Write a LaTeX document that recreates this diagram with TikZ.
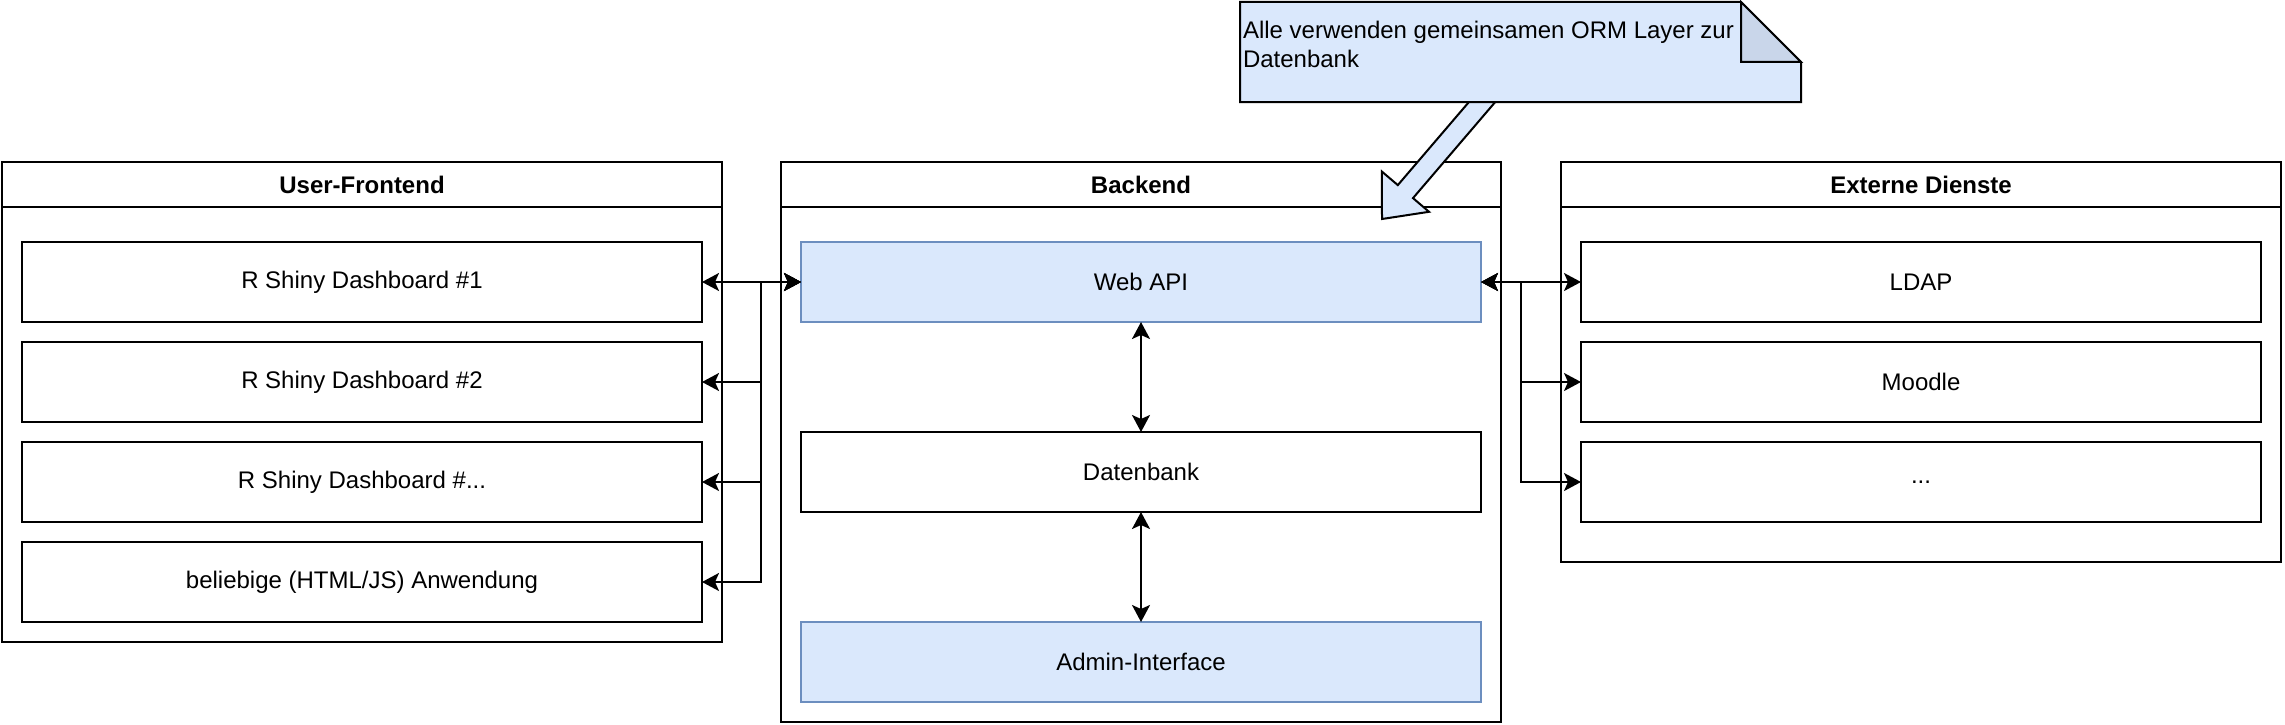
\documentclass[tikz,border=0pt]{standalone}
\usepackage{fontspec}
\setmainfont{Liberation Sans}
\usetikzlibrary{arrows.meta,calc}
\definecolor{bfill}{HTML}{DAE8FC}
\definecolor{bline}{HTML}{6C8EBF}
\definecolor{fold}{HTML}{C9D6EA}
\begin{document}
\begin{tikzpicture}[x=1pt,y=-1pt,
  every node/.style={font=\fontsize{24}{29}\selectfont, inner sep=0pt, outer sep=0pt},
  cont/.style={draw, line width=2pt, fill=white},
  box/.style={draw, line width=2pt, fill=white, minimum width=680pt, minimum height=80pt},
  bbox/.style={box, draw=bline, fill=bfill},
  ttl/.style={font=\fontsize{24}{29}\selectfont\bfseries},
  arr/.style={line width=2pt, {Stealth[length=17pt,width=18pt,inset=4pt]}-{Stealth[length=17pt,width=18pt,inset=4pt]}}]
\useasboundingbox (0,0) rectangle (2285,725);
% containers
\node[cont, minimum width=720pt, minimum height=480pt] (uf) at (362,402) {};
\draw[line width=2pt] ($(uf.north west)+(0,45)$) -- ($(uf.north east)+(0,45)$);
\node[ttl] (uft) at (362,184.5) {User-Frontend};
\node[cont, minimum width=720pt, minimum height=560pt] (be) at (1141,442) {};
\draw[line width=2pt] ($(be.north west)+(0,45)$) -- ($(be.north east)+(0,45)$);
\node[ttl] (bet) at (1141,184.5) {Backend};
\node[cont, minimum width=720pt, minimum height=400pt] (ex) at (1921,362) {};
\draw[line width=2pt] ($(ex.north west)+(0,45)$) -- ($(ex.north east)+(0,45)$);
\node[ttl] (ext) at (1921,184.5) {Externe Dienste};
% user boxes
\node[box] (u1) at (362,282) {R Shiny Dashboard \#1};
\node[box] (u2) at (362,382) {R Shiny Dashboard \#2};
\node[box] (u3) at (362,482) {R Shiny Dashboard \#...};
\node[box] (u4) at (362,582) {beliebige (HTML/JS) Anwendung};
% backend
\node[bbox] (w) at (1141,282) {Web API};
\node[box] (db) at (1141,472) {Datenbank};
\node[bbox] (ad) at (1141,662) {Admin-Interface};
% external
\node[box] (e1) at (1921,282) {LDAP};
\node[box] (e2) at (1921,382) {Moodle};
\node[box] (e3) at (1921,482) {...};
% connectors
\coordinate (jl) at (761,282);
\coordinate (jr) at (1521,282);
\draw[arr] (u1.east) -- (w.west);
\draw[arr] (w.west) -- (jl) |- (u2.east);
\draw[arr] (w.west) -- (jl) |- (u3.east);
\draw[arr] (w.west) -- (jl) |- (u4.east);
\draw[arr] (w.east) -- (e1.west);
\draw[arr] (w.east) -- (jr) |- (e2.west);
\draw[arr] (w.east) -- (jr) |- (e3.west);
\draw[arr] (w.south) -- (db.north);
\draw[arr] (db.south) -- (ad.north);
% block arrow
\draw[line width=2pt, fill=bfill, line join=miter]
  (1500.8,95.5) -- (1413.0,198.1) -- (1429.0,211.8) -- (1382,219) -- (1381.8,171.5)
  -- (1397.8,185.1) -- (1485.6,82.5) -- cycle;
% note
\draw[line width=2pt, fill=bfill] (1240,2) -- (1741,2) -- (1801,62) -- (1801,102) -- (1240,102) -- cycle;
\draw[line width=2pt, fill=fold, line join=miter] (1741,2) -- (1741,62) -- (1801,62) -- cycle;
\node[anchor=north west, align=left] (nt) at (1243,21) {Alle verwenden gemeinsamen ORM Layer zur\\Datenbank};
\end{tikzpicture}
\end{document}
